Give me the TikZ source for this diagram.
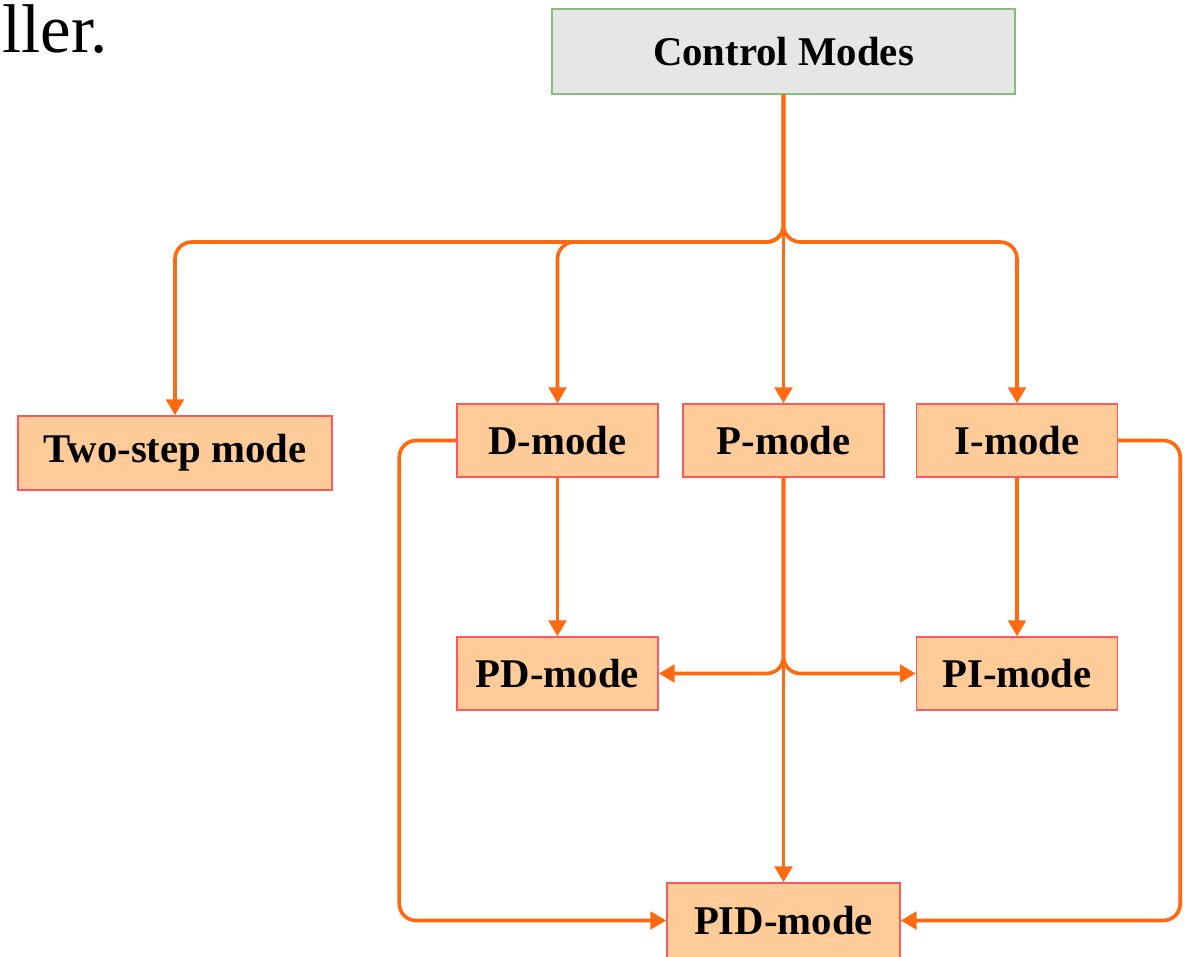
\documentclass[tikz,border=0pt]{standalone}
\usepackage{fontspec}
\setmainfont{Liberation Serif}
\usetikzlibrary{positioning, arrows.meta, calc}
\definecolor{flame}{HTML}{FF6A10}
\definecolor{peach}{HTML}{FFCC99}
\definecolor{rosered}{HTML}{FF5A5A}
\definecolor{leaf}{HTML}{82C07A}
\definecolor{greybg}{HTML}{E6E6E6}
\tikzset{
  mode/.style={draw=rosered, line width=1pt, fill=peach, align=center,
               font=\fontsize{29}{34}\selectfont\bfseries, inner sep=0pt,
               minimum width=5.025cm, minimum height=1.825cm},
  head/.style={mode, draw=leaf, fill=greybg, minimum width=11.575cm,
               minimum height=2.125cm},
  feed/.style={-{Triangle[length=4mm, width=4.4mm]}, line width=2.6pt,
               draw=flame, rounded corners=12pt},
}
\begin{document}
\begin{tikzpicture}[x=0.025cm, y=-0.025cm]
  \useasboundingbox (0,0) rectangle (1184,956);
  % stray caption text
  \node[anchor=base west, inner sep=0pt, font=\fontsize{49}{54}\selectfont]
    (cut) at (2,52) {ller.};
  \node[head] (cm) at (783.5,51.5) {Control Modes};
  \node[mode, minimum width=7.85cm, minimum height=1.85cm]
    (two) at (175,453) {Two-step mode};
  \node[mode] (d) at (557.5,440.5) {D-mode};
  \node[mode] (p) at (783.5,440.5) {P-mode};
  \node[mode] (i) at (1017,440.5) {I-mode};
  \node[mode] (pd) at (557.5,673.5) {PD-mode};
  \node[mode] (pi) at (1017,673.5) {PI-mode};
  \node[mode, minimum width=5.825cm, minimum height=1.875cm]
    (pid) at (783.5,920.5) {PID-mode};
  \coordinate (hub) at (783.5,242);
  % from the top
  \draw[feed] (cm.south) -- (p.north);
  \draw[feed] (cm.south) -- (hub) -| (two.north);
  \draw[feed] (cm.south) -- (hub) -| (d.north);
  \draw[feed] (cm.south) -- (hub) -| (i.north);
  % second row
  \draw[feed] (d.south) -- (pd.north);
  \draw[feed] (i.south) -- (pi.north);
  \draw[feed] (p.south) |- (pd.east);
  \draw[feed] (p.south) |- (pi.west);
  \draw[feed] (p.south) -- (pid.north);
  % outer loops
  \draw[feed] (d.west) -- ++(-57,0) |- (pid.west);
  \draw[feed] (i.east) -- ++(62,0) |- (pid.east);
\end{tikzpicture}
\end{document}
